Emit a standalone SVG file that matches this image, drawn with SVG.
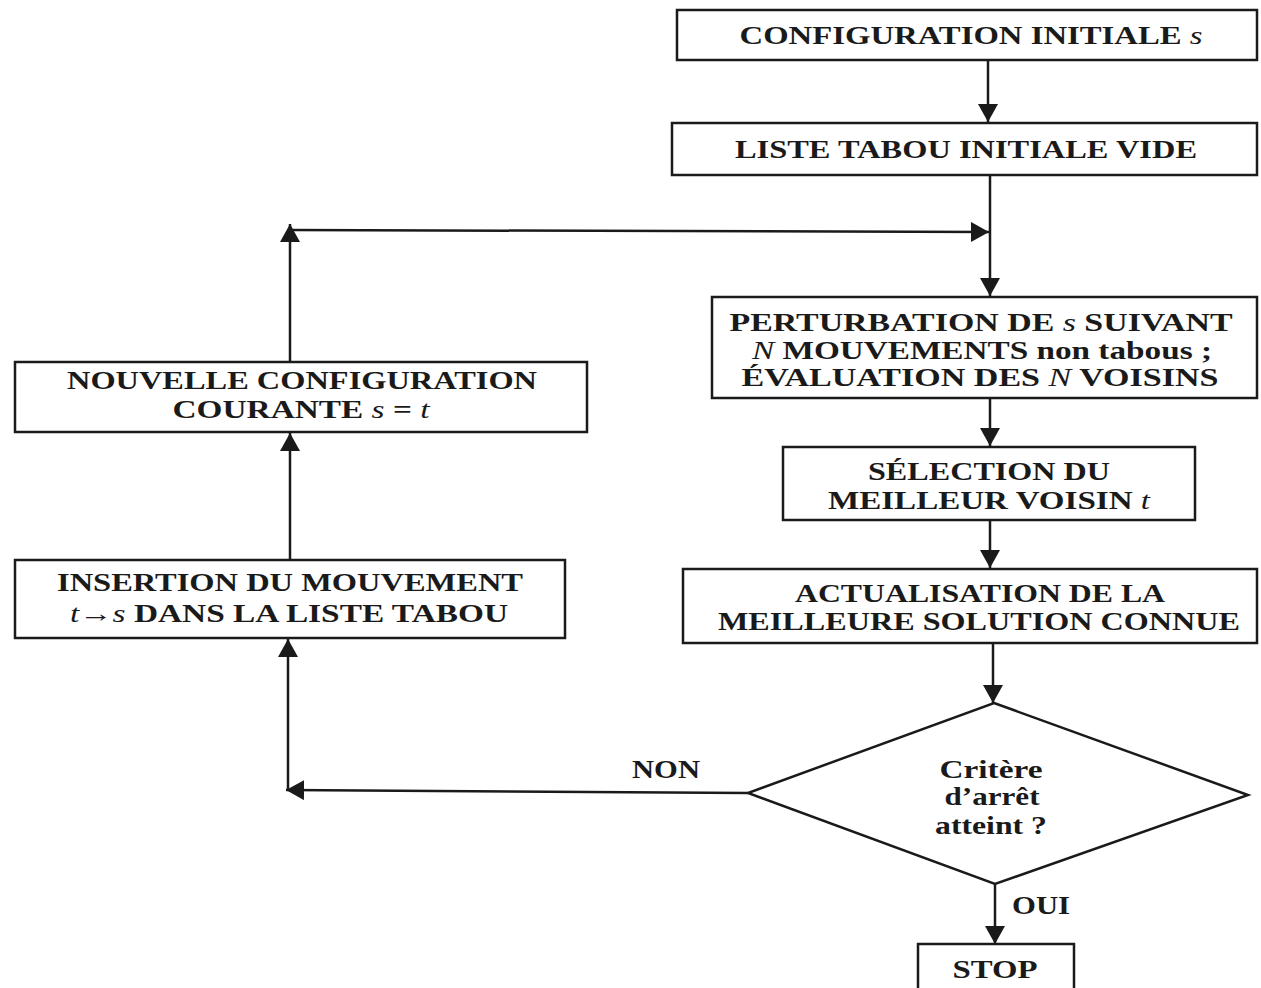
<svg xmlns="http://www.w3.org/2000/svg" width="1261" height="988" viewBox="0 0 1261 988">
  <style>
    .box { fill: #ffffff; stroke: #1a1a1a; stroke-width: 2.5; }
    .edge { fill: none; stroke: #1a1a1a; stroke-width: 2.5; }
    .lbl { font-family: "Liberation Serif", "Times New Roman", serif; font-weight: bold; font-size: 25px; fill: #1a1a1a; text-anchor: middle; }
    .it { font-style: italic; font-weight: normal; }
  </style>
  <defs>
    <!-- solid triangular arrowhead shared by all connectors -->
    <marker id="arrowBig" viewBox="0 0 18 20" refX="18" refY="10" markerWidth="18" markerHeight="20" markerUnits="userSpaceOnUse" orient="auto">
      <path d="M0,0 L18,10 L0,20 Z" fill="#1a1a1a"/>
    </marker>
  </defs>
  <rect width="1261" height="988" fill="#ffffff"/>

  <!-- connectors -->
  <g id="connectors">
    <line class="edge" x1="988" y1="60" x2="988" y2="122" marker-end="url(#arrowBig)"/>
    <line class="edge" x1="990" y1="175" x2="990" y2="296" marker-end="url(#arrowBig)"/>
    <line class="edge" x1="290" y1="230" x2="989" y2="232" marker-end="url(#arrowBig)"/>
    <line class="edge" x1="990" y1="398" x2="990" y2="446" marker-end="url(#arrowBig)"/>
    <line class="edge" x1="990" y1="520" x2="990" y2="568" marker-end="url(#arrowBig)"/>
    <line class="edge" x1="993" y1="643" x2="993" y2="703" marker-end="url(#arrowBig)"/>
    <line class="edge" x1="995" y1="884" x2="995" y2="944" marker-end="url(#arrowBig)"/>
    <line class="edge" x1="748" y1="793" x2="286" y2="790" marker-end="url(#arrowBig)"/>
    <line class="edge" x1="288" y1="790" x2="288" y2="639" marker-end="url(#arrowBig)"/>
    <line class="edge" x1="290" y1="560" x2="290" y2="433" marker-end="url(#arrowBig)"/>
    <line class="edge" x1="290" y1="362" x2="290" y2="224" marker-end="url(#arrowBig)"/>
    <text class="lbl" x="666" y="778" textLength="68" lengthAdjust="spacingAndGlyphs">NON</text>
    <text class="lbl" x="1041" y="914" textLength="58" lengthAdjust="spacingAndGlyphs">OUI</text>
  </g>

  <g id="init-config">
    <rect class="box" x="677" y="10" width="580" height="50"/>
    <text class="lbl" x="971" y="44" textLength="463" lengthAdjust="spacingAndGlyphs">CONFIGURATION INITIALE <tspan class="it">s</tspan></text>
  </g>

  <g id="init-tabu">
    <rect class="box" x="672" y="123" width="585" height="52"/>
    <text class="lbl" x="966" y="158" textLength="462" lengthAdjust="spacingAndGlyphs">LISTE TABOU INITIALE VIDE</text>
  </g>

  <g id="perturbation">
    <rect class="box" x="712" y="297" width="545" height="101"/>
    <text class="lbl" x="981" y="331" textLength="503" lengthAdjust="spacingAndGlyphs">PERTURBATION DE <tspan class="it">s</tspan> SUIVANT</text>
    <text class="lbl" x="982" y="359" textLength="460" lengthAdjust="spacingAndGlyphs"><tspan class="it">N</tspan> MOUVEMENTS non tabous ;</text>
    <text class="lbl" x="980" y="386" textLength="477" lengthAdjust="spacingAndGlyphs">ÉVALUATION DES <tspan class="it">N</tspan> VOISINS</text>
  </g>

  <g id="selection">
    <rect class="box" x="783" y="447" width="412" height="73"/>
    <text class="lbl" x="989" y="480" textLength="242" lengthAdjust="spacingAndGlyphs">SÉLECTION DU</text>
    <text class="lbl" x="989" y="509" textLength="322" lengthAdjust="spacingAndGlyphs">MEILLEUR VOISIN <tspan class="it">t</tspan></text>
  </g>

  <g id="update-best">
    <rect class="box" x="683" y="569" width="574" height="74"/>
    <text class="lbl" x="980" y="602" textLength="370" lengthAdjust="spacingAndGlyphs">ACTUALISATION DE LA</text>
    <text class="lbl" x="979" y="630" textLength="522" lengthAdjust="spacingAndGlyphs">MEILLEURE SOLUTION CONNUE</text>
  </g>

  <g id="stop-test">
    <polygon class="box" points="994,703 1248,795 995,884 748,793"/>
    <text class="lbl" x="991" y="778" textLength="103" lengthAdjust="spacingAndGlyphs">Critère</text>
    <text class="lbl" x="992" y="805" textLength="95" lengthAdjust="spacingAndGlyphs">d’arrêt</text>
    <text class="lbl" x="991" y="834" textLength="112" lengthAdjust="spacingAndGlyphs">atteint ?</text>
  </g>

  <g id="stop">
    <rect class="box" x="918" y="944" width="156" height="60"/>
    <text class="lbl" x="995" y="978" textLength="85" lengthAdjust="spacingAndGlyphs">STOP</text>
  </g>

  <g id="insert-move">
    <rect class="box" x="15" y="560" width="550" height="78"/>
    <text class="lbl" x="290" y="591" textLength="466" lengthAdjust="spacingAndGlyphs">INSERTION DU MOUVEMENT</text>
    <text class="lbl" x="289" y="622" textLength="438" lengthAdjust="spacingAndGlyphs"><tspan class="it">t</tspan><tspan class="it">→</tspan><tspan class="it">s</tspan>  DANS LA LISTE TABOU</text>
  </g>

  <g id="new-current">
    <rect class="box" x="15" y="362" width="572" height="70"/>
    <text class="lbl" x="302" y="389" textLength="470" lengthAdjust="spacingAndGlyphs">NOUVELLE CONFIGURATION</text>
    <text class="lbl" x="301" y="418" textLength="257" lengthAdjust="spacingAndGlyphs">COURANTE  <tspan class="it">s</tspan> = <tspan class="it">t</tspan></text>
  </g>
</svg>
